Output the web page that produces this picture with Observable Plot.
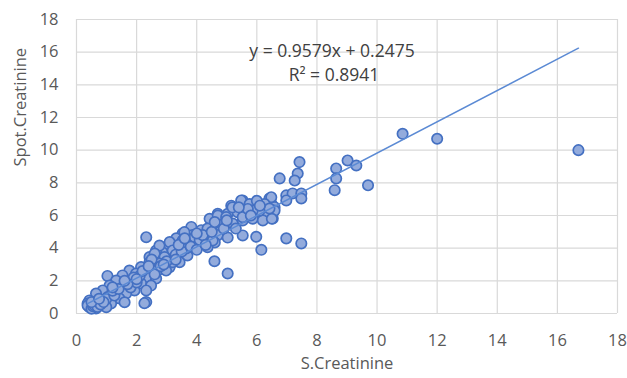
<!DOCTYPE html>
<html>
<head>
<meta charset="utf-8">
<script src="https://cdn.jsdelivr.net/npm/d3@7"></script>
<script src="https://cdn.jsdelivr.net/npm/@observablehq/plot@0.6"></script>
<style>
  html, body { margin: 0; padding: 0; background: #fff; }
</style>
</head>
<body>
<div id="chart"></div>
<script>
// S.Creatinine (x) and Spot.Creatinine (y) values
const sCreatinine = [
  16.7, 12.0, 10.85, 9.7, 9.02, 9.31, 8.64, 8.64, 8.59, 7.42, 7.36, 7.26, 6.76, 6.98, 7.19, 7.48, 7.48, 6.98,
  6.42, 6.48, 6.26, 6.59, 6.26, 6.53, 6.98, 7.48, 6.15, 5.98, 5.53, 5.03, 4.59, 2.32, 1.03, 2.32, 2.36,
  6.48, 5.15, 5.53, 5.86, 6.26, 4.7, 5.03, 5.36, 5.65, 5.98, 6.59, 4.43, 4.8, 5.2, 5.53, 5.86, 6.2, 6.5,
  3.82, 4.15, 4.48, 4.7, 5.03, 3.53, 3.86, 4.26, 4.6, 3.65, 3.98, 4.36, 3.32, 3.26, 3.69, 2.98, 2.86, 2.65,
  3.1, 2.76, 2.53, 3.1, 3.43, 2.7, 2.43,
  3.59, 3.93, 3.53, 3.65, 4.53, 4.36, 4.7, 5.19, 5.48, 5.76, 6.09, 4.98, 5.53, 5.86, 6.42,
  2.76, 3.1, 3.2, 2.6, 2.93, 2.43, 2.76, 3.2, 2.15, 2.53, 2.98, 1.76, 1.98, 1.53, 2.32, 2.65, 1.32, 1.76,
  2.15, 2.48, 1.1, 1.53, 1.93, 2.32, 0.87, 1.32, 1.65, 0.65, 1.03, 1.43, 0.43, 0.77, 1.15, 0.43, 0.65,
  0.99, 0.37, 0.37, 0.65, 0.99, 1.26, 1.6, 2.26,
  0.5, 0.55, 0.6, 0.7, 0.8, 0.9, 0.5, 0.75, 1.2, 1.4, 1.8, 2.0, 2.1, 1.9, 1.7, 2.6, 2.8, 3.0, 2.5, 3.3,
  3.5, 3.8, 4.0, 4.1, 4.2, 3.4, 4.5, 4.9, 5.3, 5.7, 6.0,
  2.2, 2.4, 2.9, 3.3, 2.0, 1.6, 1.2, 3.6, 4.0, 4.6, 5.0, 5.4, 5.8, 6.1, 4.3
];
const spotCreatinine = [
  10.0, 10.7, 11.0, 7.85, 9.37, 9.06, 8.88, 8.27, 7.55, 9.27, 8.57, 8.14, 8.27, 7.23, 7.35, 7.35, 7.04, 6.92,
  7.04, 6.73, 6.43, 6.51, 6.2, 5.82, 4.6, 4.29, 3.9, 4.7, 4.78, 2.45, 3.2, 4.67, 2.3, 0.7, 1.6,
  7.12, 6.6, 6.92, 6.6, 6.7, 6.1, 6.1, 6.2, 6.1, 6.2, 6.3, 5.8, 5.5, 5.5, 5.7, 5.8, 5.7, 5.8,
  5.3, 5.1, 5.2, 4.8, 4.65, 4.9, 4.8, 4.6, 4.35, 4.37, 4.3, 4.06, 4.6, 4.0, 3.55, 4.06, 3.75, 3.86,
  3.45, 3.25, 3.06, 2.84, 3.14, 2.63, 3.45,
  4.98, 4.67, 4.47, 3.98, 4.47, 5.2, 6.0, 6.5, 6.92, 6.7, 6.3, 5.9, 5.9, 6.3, 6.43,
  4.16, 4.37, 3.86, 3.67, 3.45, 3.14, 3.06, 3.14, 2.84, 2.63, 2.63, 2.63, 2.45, 2.33, 2.22, 2.14, 2.02, 1.92,
  1.84, 1.71, 1.71, 1.61, 1.41, 1.41, 1.41, 1.3, 1.22, 1.22, 1.0, 0.92, 0.8, 0.69, 0.61, 0.39, 0.31,
  0.39, 0.61, 0.49, 0.6, 0.9, 1.1, 0.69, 0.63,
  0.3, 0.45, 0.5, 0.4, 0.55, 0.7, 0.7, 0.9, 1.4, 1.5, 1.6, 1.9, 2.3, 2.2, 1.8, 2.4, 2.9, 3.2, 3.3, 3.6,
  3.8, 4.1, 3.9, 4.5, 4.8, 4.2, 5.0, 5.2, 5.2, 6.4, 6.9,
  2.6, 2.9, 3.0, 3.3, 2.1, 2.0, 1.6, 4.6, 4.9, 5.6, 5.7, 6.5, 6.0, 6.6, 4.2
];

// Trendline as printed on the chart
const slope = 0.9579;
const intercept = 0.2475;
const rSquared = 0.8941;
const equationLabel = "y = 0.9579x + 0.2475";
const rSquaredLabel = "R² = 0.8941";

// Axis ticks and titles
const xTicks = [0, 2, 4, 6, 8, 10, 12, 14, 16, 18];
const yTicks = [0, 2, 4, 6, 8, 10, 12, 14, 16, 18];
const xTitle = "S.Creatinine";
const yTitle = "Spot.Creatinine";

const points = sCreatinine.map((x, i) => ({x, y: spotCreatinine[i]}));
const [xMin, xMax] = d3.extent(sCreatinine);
const trend = [xMin, xMax].map(x => ({x, y: slope * x + intercept}));

const textColor = "#595959";
const font = "'Open Sans', sans-serif";

const chart = Plot.plot({
  width: 627,
  height: 378,
  marginLeft: 76,
  marginRight: 10,
  marginTop: 19,
  marginBottom: 65,
  style: {fontFamily: font, fontSize: "16.5px", color: textColor, background: "#fff", overflow: "visible"},
  x: {domain: [0, 18]},
  y: {domain: [0, 18]},
  marks: [
    Plot.gridX(xTicks, {stroke: "#d9d9d9", strokeOpacity: 1, strokeWidth: 1.2}),
    Plot.gridY(yTicks, {stroke: "#d9d9d9", strokeOpacity: 1, strokeWidth: 1.2}),
    Plot.axisX({ticks: xTicks, tickSize: 0, tickPadding: 21, label: null, fill: textColor}),
    Plot.axisY({ticks: yTicks, tickSize: 0, tickPadding: 18, label: null, fill: textColor}),
    Plot.dot(points, {x: "x", y: "y", r: 5.2, fill: "#93abdc", stroke: "#4470c2", strokeWidth: 1.7}),
    Plot.line(trend, {x: "x", y: "y", stroke: "#5b8ad4", strokeWidth: 1.5}),
    Plot.text([equationLabel], {frameAnchor: "top", dx: -15, dy: 25, fontSize: 17.5, fill: "#404040"}),
    Plot.text([rSquaredLabel], {frameAnchor: "top", dx: -13, dy: 49, fontSize: 17.5, fill: "#404040"}),
    Plot.text([xTitle], {frameAnchor: "bottom", dy: 55, fontSize: 16.5, fill: textColor}),
    Plot.text([yTitle], {frameAnchor: "left", dx: -56, rotate: -90, fontSize: 16.5, fill: textColor})
  ]
});
document.getElementById("chart").appendChild(chart);
</script>
</body>
</html>
